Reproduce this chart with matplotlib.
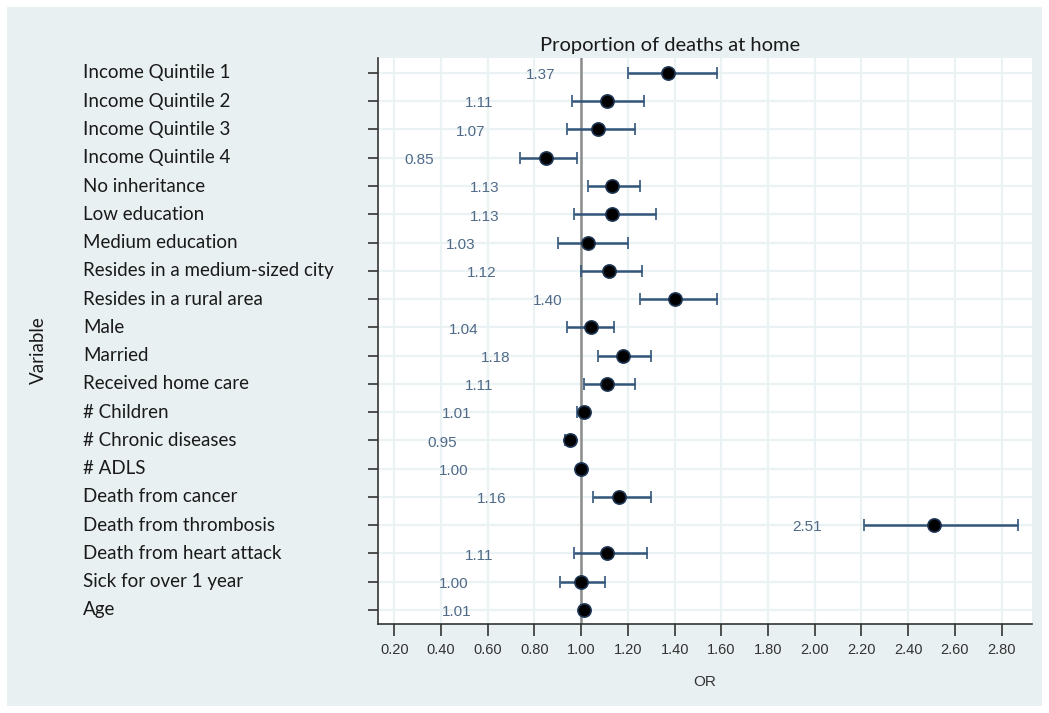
import matplotlib
matplotlib.use('Agg')
import matplotlib.pyplot as plt
import matplotlib.transforms as transforms
from matplotlib.patches import Rectangle

variables = ['Income Quintile 1', 'Income Quintile 2', 'Income Quintile 3', 'Income Quintile 4',
             'No inheritance', 'Low education', 'Medium education',
             'Resides in a medium-sized city', 'Resides in a rural area', 'Male', 'Married',
             'Received home care', '# Children', '# Chronic diseases', '# ADLS',
             'Death from cancer', 'Death from thrombosis', 'Death from heart attack',
             'Sick for over 1 year', 'Age']
odds_ratio = [1.37, 1.11, 1.07, 0.85, 1.13, 1.13, 1.03, 1.12, 1.40, 1.04, 1.18,
              1.11, 1.01, 0.95, 1.00, 1.16, 2.51, 1.11, 1.00, 1.01]
ci_low = [1.20, 0.96, 0.94, 0.74, 1.03, 0.97, 0.90, 1.00, 1.25, 0.94, 1.07,
          1.01, 0.98, 0.93, 0.99, 1.05, 2.21, 0.97, 0.91, 1.00]
ci_high = [1.58, 1.27, 1.23, 0.98, 1.25, 1.32, 1.20, 1.26, 1.58, 1.14, 1.30,
           1.23, 1.03, 0.97, 1.01, 1.30, 2.87, 1.28, 1.10, 1.02]
x_ticks = [0.2, 0.4, 0.6, 0.8, 1.0, 1.2, 1.4, 1.6, 1.8, 2.0, 2.2, 2.4, 2.6, 2.8]

label_font = 'Lato'
num_font = 'Liberation Sans'
bar_color = '#32557a'
value_color = '#4f6a88'

fig = plt.figure(figsize=(10.49, 7.13), dpi=100)
fig.patch.set_facecolor('white')
bg = Rectangle((7 / 1049, 7 / 713), 1 - 14 / 1049, 1 - 14 / 713,
               transform=fig.transFigure, facecolor='#e9f0f2', edgecolor='none')
bg.set_zorder(-10)
fig.add_artist(bg)

ax = fig.add_axes([378 / 1049, 1 - 624 / 713, (1032 - 378) / 1049, (624 - 58) / 713])
ax.set_facecolor('white')

rows = list(range(len(variables)))
err_lo = [o - l for o, l in zip(odds_ratio, ci_low)]
err_hi = [h - o for o, h in zip(odds_ratio, ci_high)]

ax.axvline(1.0, color='#8c8c8c', lw=1.8, zorder=2)
ax.errorbar(odds_ratio, rows, xerr=[err_lo, err_hi], fmt='o', color=bar_color,
            ecolor=bar_color, elinewidth=1.8, capsize=4, capthick=1.8,
            markersize=9.5, markerfacecolor='black', markeredgecolor='#1d3552',
            markeredgewidth=1.2, zorder=3)

for r, v in zip(rows, odds_ratio):
    ax.text(v - 0.545, r + 0.08, f'{v:.2f}', ha='center', va='center',
            fontsize=11, family=num_font, color=value_color)

ax.set_xlim(0.13, 2.93)
ax.set_ylim(19.5, -0.53)
ax.set_xticks(x_ticks)
ax.set_xticklabels([f'{t:.2f}' for t in x_ticks], family=num_font, fontsize=10.5, color='#333333')
ax.set_yticks(rows)
ax.set_yticklabels([])
ax.grid(True, color='#ebf2f4', lw=1.6, zorder=0)
ax.set_axisbelow(True)
for side in ['top', 'right']:
    ax.spines[side].set_visible(False)
for side in ['left', 'bottom']:
    ax.spines[side].set_color('#333333')
    ax.spines[side].set_linewidth(1.2)
ax.tick_params(axis='x', length=8.5, width=1.2, color='#333333', pad=5)
ax.tick_params(axis='y', length=7, width=1.2, color='#333333')

trans = transforms.blended_transform_factory(fig.transFigure, ax.transData)
for r, name in zip(rows, variables):
    ax.text(83 / 1049, r, name, transform=trans, ha='left', va='center',
            fontsize=13.5, family=label_font, color='#1a1a1a', clip_on=False)

ax.set_title('Proportion of deaths at home', family=label_font, fontsize=14.5,
             color='#1a1a1a', pad=5, x=0.446)
ax.set_xlabel('OR', family=num_font, fontsize=11, color='#333333', labelpad=13)
fig.text(38 / 1049, 1 - 350 / 713, 'Variable', rotation=90, ha='center', va='center',
         family=label_font, fontsize=13.5, color='#1a1a1a')

fig.savefig('out.png', dpi=100, facecolor=fig.get_facecolor())
